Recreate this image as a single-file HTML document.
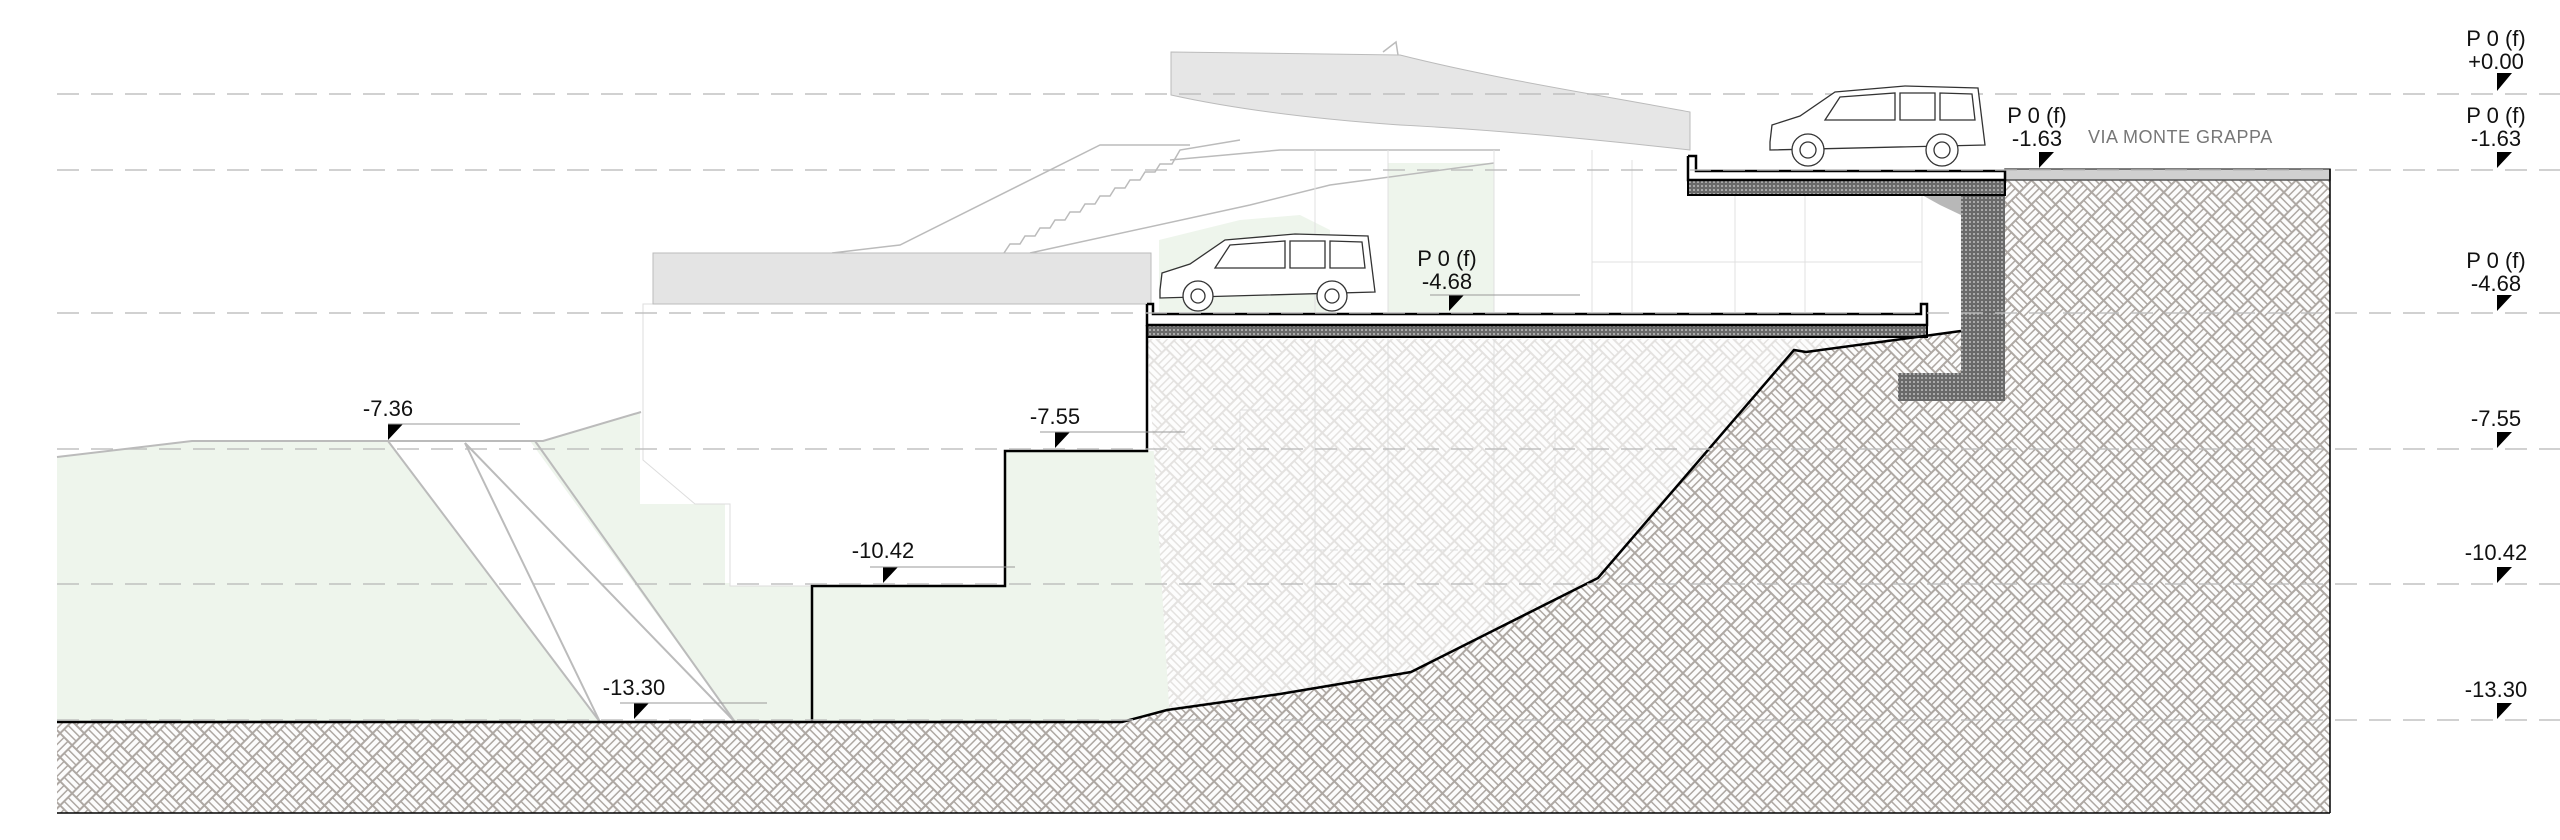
<!DOCTYPE html>
<html><head><meta charset="utf-8"><style>
html,body{margin:0;padding:0;background:#fff;}
svg{display:block;}
text{font-family:"Liberation Sans",sans-serif;}
</style></head><body>
<svg width="2560" height="840" viewBox="0 0 2560 840" xmlns="http://www.w3.org/2000/svg">
<defs>
<pattern id="bw" width="34" height="34" patternUnits="userSpaceOnUse" patternTransform="rotate(45)">
<rect width="34" height="34" fill="#aea8a3"/>
<g fill="#fcfcfc">
<rect x="1" y="1" width="15" height="4"/><rect x="1" y="6.5" width="15" height="4"/><rect x="1" y="12" width="15" height="4"/>
<rect x="18" y="1" width="4" height="15"/><rect x="23.5" y="1" width="4" height="15"/><rect x="29" y="1" width="4" height="15"/>
<rect x="1" y="18" width="4" height="15"/><rect x="6.5" y="18" width="4" height="15"/><rect x="12" y="18" width="4" height="15"/>
<rect x="18" y="18" width="15" height="4"/><rect x="18" y="23.5" width="15" height="4"/><rect x="18" y="29" width="15" height="4"/>
</g></pattern>
<pattern id="bwl" width="34" height="34" patternUnits="userSpaceOnUse" patternTransform="rotate(45)">
<rect width="34" height="34" fill="#e4e2e0"/>
<g fill="#fdfdfd">
<rect x="1" y="1" width="15" height="4"/><rect x="1" y="6.5" width="15" height="4"/><rect x="1" y="12" width="15" height="4"/>
<rect x="18" y="1" width="4" height="15"/><rect x="23.5" y="1" width="4" height="15"/><rect x="29" y="1" width="4" height="15"/>
<rect x="1" y="18" width="4" height="15"/><rect x="6.5" y="18" width="4" height="15"/><rect x="12" y="18" width="4" height="15"/>
<rect x="18" y="18" width="15" height="4"/><rect x="18" y="23.5" width="15" height="4"/><rect x="18" y="29" width="15" height="4"/>
</g></pattern>
<pattern id="dots" width="4" height="4" patternUnits="userSpaceOnUse">
<rect width="4" height="4" fill="#6a6a6a"/><circle cx="2" cy="2" r="0.9" fill="#d8d8d8"/>
</pattern>
</defs>

<!-- upper background elements -->
<path d="M1171,52 L1400,55 C1500,80 1600,95 1690,112 L1690,150 C1600,140 1500,130 1400,125 C1300,118 1230,108 1171,95 Z" fill="#e6e6e6" stroke="#bbb" stroke-width="1"/>
<polyline points="1383,52 1396,42 1398,55" fill="none" stroke="#bbb" stroke-width="1.5"/>
<polygon points="1388,163 1494,163 1494,312 1388,312" fill="#eef5ec"/>
<polygon points="1159,240 1240,220 1300,215 1330,230 1330,312 1159,312" fill="#eef5ec"/>
<g stroke="#bbb" stroke-width="1.5" fill="none">
<polyline points="832,253 900,245 1100,145 1190,145"/>
<polyline points="1004,253 1010,244 1020,244 1025,236 1035,236 1040,228 1050,228 1055,220 1065,220 1070,212 1080,212 1085,204 1095,204 1100,196 1110,196 1115,188 1125,188 1130,180 1140,180 1145,172 1155,172 1160,164 1172,164 1180,150 1240,140"/>
<polyline points="1030,253 1250,205 1330,185 1494,163"/>
<polyline points="1170,160 1280,150 1500,150"/>
</g>
<g stroke="#e0e0e0" stroke-width="1">
<line x1="1315" y1="150" x2="1315" y2="312"/><line x1="1388" y1="150" x2="1388" y2="312"/><line x1="1494" y1="150" x2="1494" y2="312"/>
<line x1="1592" y1="150" x2="1592" y2="312"/><line x1="1632" y1="160" x2="1632" y2="312"/><line x1="1735" y1="195" x2="1735" y2="312"/><line x1="1805" y1="195" x2="1805" y2="312"/><line x1="1922" y1="195" x2="1922" y2="312"/>
<line x1="1592" y1="262" x2="1922" y2="262"/>
</g>

<!-- left green -->
<polygon points="57,457 192,441 543,441 641,412 725,412 725,583 57,583" fill="#eef5ec"/>
<rect x="57" y="583" width="755" height="139" fill="#eef5ec"/>
<rect x="640" y="304" width="90" height="200" fill="#fff"/>
<polygon points="643,304 1147,304 1147,451 1005,451 1005,586 730,586 730,504 695,504 643,460" fill="#fff" stroke="#ddd" stroke-width="1"/>
<rect x="812" y="586" width="193" height="136" fill="#eef5ec"/>
<rect x="1005" y="451" width="165" height="271" fill="#eef5ec"/>
<polygon points="388,441 600,722 735,722 530,441" fill="#fff"/>
<g stroke="#bbb" stroke-width="2" fill="none">
<polyline points="57,457 192,441 543,441 641,412"/>
<line x1="388" y1="441" x2="600" y2="722"/>
<line x1="465" y1="443" x2="600" y2="722"/>
<line x1="465" y1="443" x2="735" y2="722"/>
<line x1="535" y1="441" x2="735" y2="722"/>
</g>
<rect x="653" y="253" width="498" height="51" fill="#e4e4e4" stroke="#bbb" stroke-width="1"/>

<!-- light hatch middle -->
<polygon points="1147,339 1927,339 1961,331 1806,352 1794,350 1598,578 1411,672 1280,694 1167,710 1165,722 1170,722 1147,339" fill="url(#bwl)"/>
<g stroke="#ddd" stroke-width="1" fill="none">
<line x1="1315" y1="339" x2="1315" y2="715"/><line x1="1388" y1="339" x2="1388" y2="700"/><line x1="1494" y1="339" x2="1494" y2="680"/><line x1="1592" y1="339" x2="1592" y2="580"/>
<rect x="1240" y="410" width="315" height="140" stroke-dasharray="8 4"/>
</g>

<!-- dark hatch -->
<rect x="57" y="722" width="2273" height="91" fill="url(#bw)"/>
<polygon points="1122,721 1167,710 1280,694 1411,672 1598,578 1794,350 1806,352 1961,331 1961,195 2005,180 2330,180 2330,813 1100,813" fill="url(#bw)"/>
<rect x="2005" y="169" width="325" height="11" fill="#d0d0d0" stroke="#555" stroke-width="1.5"/>

<!-- retaining wall -->
<polygon points="1961,195 2005,195 2005,401 1898,401 1898,373 1961,373" fill="url(#dots)"/>
<polygon points="1922,195 1961,195 1961,215 1940,205" fill="#888" opacity="0.6"/>
<!-- slabs -->
<rect x="1688" y="180" width="317" height="15" fill="url(#dots)" stroke="#000" stroke-width="2"/>
<polyline points="1688,156 1696,156 1696,171 2005,171 2005,180 1688,180 1688,156" fill="#fff" stroke="#000" stroke-width="2.5"/>
<rect x="1147" y="325" width="780" height="12" fill="url(#dots)" stroke="#000" stroke-width="2"/>
<polyline points="1147,304 1153,304 1153,314 1921,314 1921,304 1927,304 1927,325 1147,325 1147,304" fill="#fff" stroke="#000" stroke-width="2.5"/>

<!-- black profiles -->
<g stroke="#000" stroke-width="2.5" fill="none">
<polyline points="57,722 1122,722 1167,710 1280,694 1411,672 1598,578 1794,350 1806,352 1961,331"/>
<polyline points="812,722 812,586 1005,586 1005,451 1147,451 1147,325"/>
<line x1="57" y1="813" x2="2330" y2="813" stroke-width="1.5"/>
<line x1="2330" y1="169" x2="2330" y2="813" stroke-width="1.5"/>
</g>

<!-- dashed level lines -->
<g stroke="#bbb" stroke-width="1.5" stroke-dasharray="22 12" opacity="0.9">
<line x1="57" y1="94" x2="2560" y2="94"/>
<line x1="57" y1="170" x2="2560" y2="170"/>
<line x1="57" y1="313" x2="2560" y2="313"/>
<line x1="57" y1="449" x2="2560" y2="449"/>
<line x1="57" y1="584" x2="2560" y2="584"/>
<line x1="57" y1="720" x2="2560" y2="720"/>
</g>

<!-- cars (simplified SUVs) -->
<g fill="#fff" stroke="#333" stroke-width="1.3">
<path d="M1770,142 L1772,125 L1800,116 L1835,92 L1905,86 L1978,88 L1985,145 L1770,150 Z"/>
<path d="M1840,97 L1895,93 L1895,120 L1825,120 Z M1900,93 L1935,93 L1935,120 L1900,120 Z M1940,93 L1972,94 L1975,120 L1940,120 Z"/>
<circle cx="1808" cy="150" r="16"/><circle cx="1808" cy="150" r="8"/>
<circle cx="1942" cy="150" r="16"/><circle cx="1942" cy="150" r="8"/>
<path d="M1160,290 L1162,273 L1190,264 L1225,240 L1295,234 L1368,236 L1375,292 L1160,298 Z"/>
<path d="M1230,245 L1285,241 L1285,268 L1215,268 Z M1290,241 L1325,241 L1325,268 L1290,268 Z M1330,241 L1362,242 L1365,268 L1330,268 Z"/>
<circle cx="1198" cy="296" r="15"/><circle cx="1198" cy="296" r="7"/>
<circle cx="1332" cy="296" r="15"/><circle cx="1332" cy="296" r="7"/>
</g>

<!-- labels -->
<g font-size="22" fill="#111" text-anchor="middle">
<text x="2496" y="46">P 0 (f)</text><text x="2496" y="69">+0.00</text>
<text x="2496" y="123">P 0 (f)</text><text x="2496" y="146">-1.63</text>
<text x="2496" y="268">P 0 (f)</text><text x="2496" y="291">-4.68</text>
<text x="2496" y="426">-7.55</text>
<text x="2496" y="560">-10.42</text>
<text x="2496" y="697">-13.30</text>
<text x="2037" y="123">P 0 (f)</text><text x="2037" y="146">-1.63</text>
<text x="1447" y="266">P 0 (f)</text><text x="1447" y="289">-4.68</text>
<text x="388" y="416">-7.36</text>
<text x="1055" y="424">-7.55</text>
<text x="883" y="558">-10.42</text>
<text x="634" y="695">-13.30</text>
</g>
<text x="2088" y="143" font-size="18" fill="#777" letter-spacing="0.5">VIA MONTE GRAPPA</text>
<g fill="#000">
<polygon points="2497,73 2512,73 2497,91"/>
<polygon points="2497,152 2512,152 2497,168"/>
<polygon points="2497,295 2512,295 2497,311"/>
<polygon points="2497,432 2512,432 2497,448"/>
<polygon points="2497,567 2512,567 2497,583"/>
<polygon points="2497,703 2512,703 2497,719"/>
<polygon points="2039,152 2054,152 2039,168"/>
<polygon points="1449,295 1464,295 1449,311"/>
<polygon points="388,424 403,424 388,440"/>
<polygon points="1055,432 1070,432 1055,448"/>
<polygon points="883,567 898,567 883,583"/>
<polygon points="634,703 649,703 634,719"/>
</g>
<g stroke="#999" stroke-width="1">
<line x1="388" y1="424" x2="520" y2="424"/><line x1="1040" y1="432" x2="1185" y2="432"/>
<line x1="870" y1="567" x2="1015" y2="567"/><line x1="620" y1="703" x2="767" y2="703"/>
<line x1="1430" y1="295" x2="1580" y2="295"/>
</g>
</svg>
</body></html>
